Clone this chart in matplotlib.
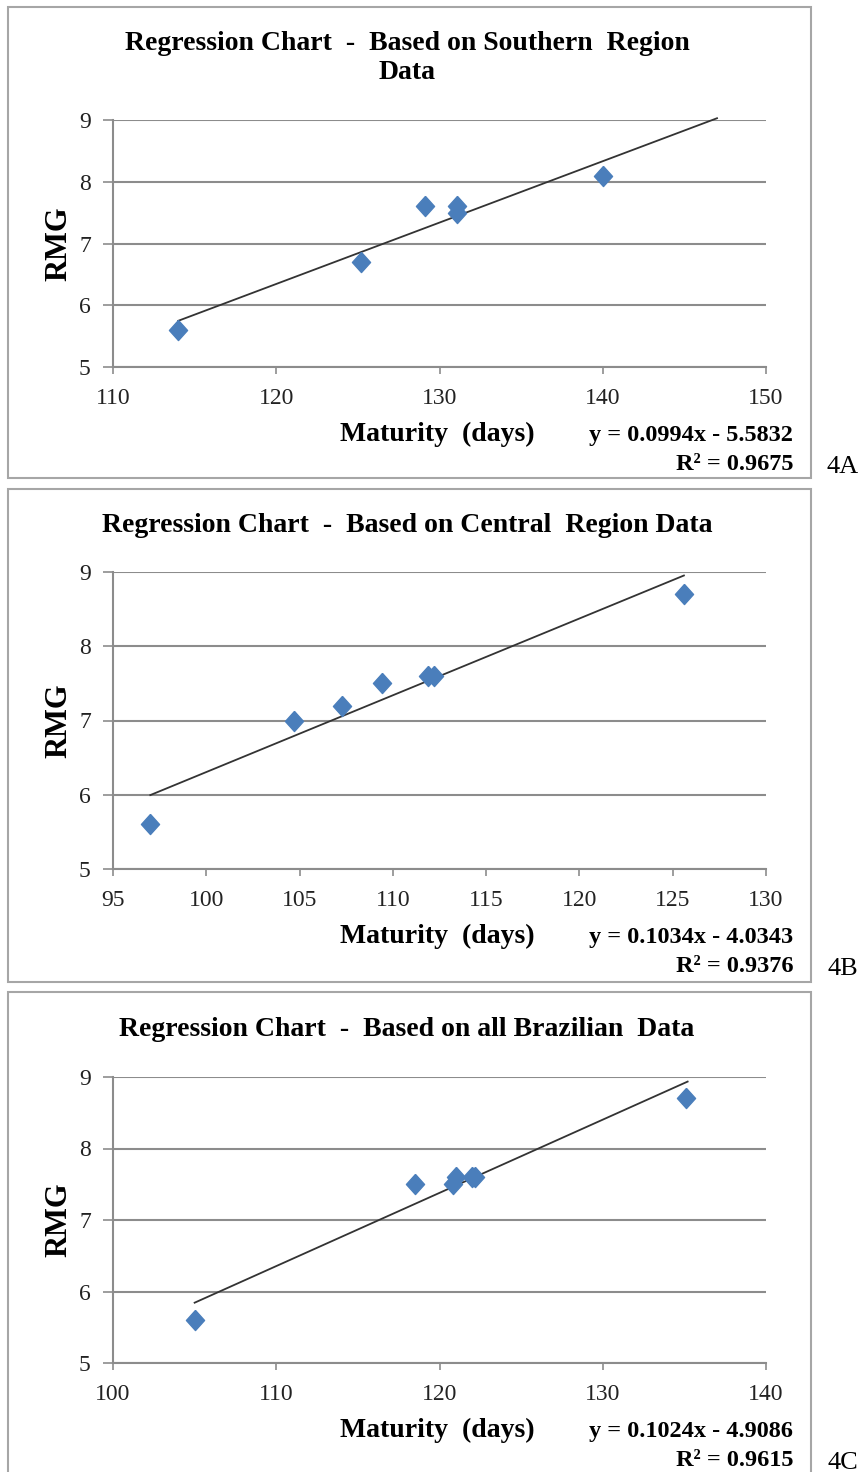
import numpy as np
import matplotlib
matplotlib.use('Agg')
import matplotlib.pyplot as plt
from matplotlib.patches import Rectangle

plt.rcParams['font.family'] = ['Liberation Serif', 'DejaVu Serif']

# data
south_x = [114, 125.2, 129.1, 131.1, 131.1, 140]
south_y = [5.6, 6.7, 7.6, 7.6, 7.5, 8.1]
central_x = [97, 104.7, 107.3, 109.4, 111.9, 112.2, 125.6]
central_y = [5.6, 7.0, 7.2, 7.5, 7.6, 7.6, 8.7]
brazil_x = [105, 118.5, 120.8, 121.0, 122.0, 122.2, 135.1]
brazil_y = [5.6, 7.5, 7.5, 7.6, 7.6, 7.6, 8.7]

# trend lines (slope, intercept, x start, x end) and text
trends = [(0.0994, -5.5832, 114, 147), (0.1034, -4.0343, 97, 125.6), (0.1024, -4.9086, 105, 135.2)]
r2 = ['0.9675', '0.9376', '0.9615']
titles = ['Regression Chart  -  Based on Southern  Region\nData',
          'Regression Chart  -  Based on Central  Region Data',
          'Regression Chart  -  Based on all Brazilian  Data']
tags = ['4A', '4B', '4C']
xlims = [(110, 150, 10), (95, 130, 5), (100, 140, 10)]
y_ticks = [5, 6, 7, 8, 9]

W, H = 861, 1472
fig = plt.figure(figsize=(W / 100, H / 100), dpi=100)

# pixel layout: (axes top, axes bottom, box top, box bottom, title y)
layout = [(120, 367, 7, 478, 58),
          (572, 869, 489, 982, 526),
          (1077, 1363, 992, 1480, 1030)]

diamond = [(0, 1), (0.9, 0), (0, -1), (-0.9, 0), (0, 1)]
datasets = [(south_x, south_y), (central_x, central_y), (brazil_x, brazil_y)]

for i in range(3):
    top, bot, btop, bbot, ty = layout[i]
    # panel border
    fig.patches.append(Rectangle((8 / W, 1 - bbot / H), (811 - 8) / W, (bbot - btop) / H,
                                 transform=fig.transFigure, fill=False, ec='#a6a6a6', lw=1.5))
    ax = fig.add_axes([113 / W, 1 - bot / H, (766 - 113) / W, (bot - top) / H])
    x, y = datasets[i]
    lo, hi, step = xlims[i]
    ax.set_xlim(lo, hi)
    ax.set_ylim(5, 9)
    ax.set_xticks(np.arange(lo, hi + 0.1, step))
    ax.set_yticks(y_ticks)
    ax.grid(axis='y', color='#8c8c8c', lw=1.5)
    ax.set_axisbelow(True)
    for s in ['top', 'right']:
        ax.spines[s].set_visible(False)
    for s in ['left', 'bottom']:
        ax.spines[s].set_color('#8c8c8c')
        ax.spines[s].set_linewidth(1.5)
    ax.tick_params(colors='#8c8c8c', labelcolor='#222222', labelsize=17, width=1.2)
    ax.tick_params(axis='x', length=5, pad=10)
    ax.tick_params(axis='y', length=7, pad=9)

    m, b, x0, x1 = trends[i]
    tx = np.array([x0, x1])
    ax.plot(tx, m * tx + b, color='#333333', lw=1.3, clip_on=False)
    ax.scatter(x, y, marker=diamond, s=210, color='#4a7ebb', zorder=3, clip_on=False)

    ax.set_ylabel('RMG', fontsize=22, fontweight='bold', labelpad=4)

    fig.text(407 / W, 1 - ty / H, titles[i], ha='center', va='center', fontsize=20,
             fontweight='bold', linespacing=1.25)
    base = bot + 67
    fig.text(437 / W, 1 - base / H, 'Maturity  (days)', ha='center', va='center',
             fontsize=20, fontweight='bold')
    sign = '-' if b < 0 else '+'
    fig.text(793 / W, 1 - (base + 2) / H, 'y = %.4fx %s %.4f' % (m, sign, abs(b)), ha='right',
             va='center', fontsize=17.5, fontweight='bold')
    fig.text(793 / W, 1 - (base + 30) / H, 'R² = ' + r2[i], ha='right', va='center',
             fontsize=17.5, fontweight='bold')
    fig.text(843 / W, 1 - (base + 33) / H, tags[i], ha='center', va='center', fontsize=19)

fig.savefig('out.png', dpi=100)
